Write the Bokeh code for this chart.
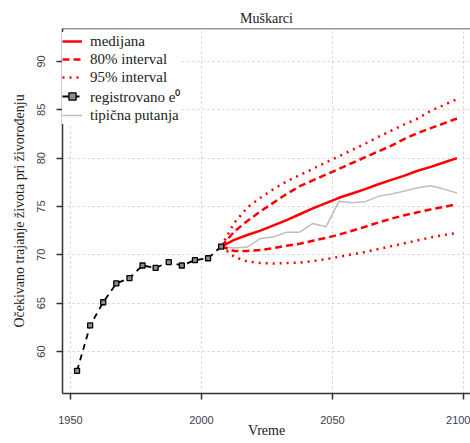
from bokeh.plotting import figure
from bokeh.models import FixedTicker, Span, Legend, LegendItem
from bokeh.embed import file_html
from bokeh.resources import INLINE

# Registered life expectancy at birth (5-year periods)
obs_years = [1952.5, 1957.5, 1962.5, 1967.5, 1972.5, 1977.5, 1982.5,
             1987.5, 1992.5, 1997.5, 2002.5, 2007.5]
obs_e0 = [58.0, 62.7, 65.1, 67.05, 67.6, 68.9, 68.65, 69.25, 68.9, 69.45, 69.65, 70.86]

# Projection periods
proj_years = [2007.5, 2012.5, 2017.5, 2022.5, 2027.5, 2032.5, 2037.5, 2042.5, 2047.5,
              2052.5, 2057.5, 2062.5, 2067.5, 2072.5, 2077.5, 2082.5, 2087.5, 2092.5, 2097.5]
median = [70.86, 71.55, 72.05, 72.5, 73.05, 73.6, 74.2, 74.8, 75.35,
          75.9, 76.35, 76.8, 77.3, 77.75, 78.2, 78.7, 79.1, 79.55, 80.0]
upper80 = [70.86, 72.4, 73.5, 74.5, 75.4, 76.3, 77.1, 77.7, 78.3,
           78.9, 79.5, 80.1, 80.7, 81.3, 82.0, 82.6, 83.1, 83.6, 84.1]
lower80 = [70.86, 70.4, 70.4, 70.5, 70.7, 70.95, 71.15, 71.45, 71.75,
           72.1, 72.5, 72.9, 73.35, 73.75, 74.1, 74.4, 74.7, 74.95, 75.25]
upper95 = [70.86, 73.3, 74.9, 75.9, 76.8, 77.6, 78.25, 78.9, 79.55,
           80.2, 80.85, 81.5, 82.2, 82.85, 83.5, 84.1, 84.9, 85.5, 86.1]
lower95 = [70.86, 69.8, 69.3, 69.15, 69.1, 69.15, 69.2, 69.35, 69.55,
           69.8, 70.05, 70.3, 70.6, 70.9, 71.2, 71.5, 71.8, 72.05, 72.25]
typical = [70.86, 70.7, 70.8, 71.7, 71.85, 72.35, 72.35, 73.25, 72.9,
           75.55, 75.4, 75.5, 76.05, 76.3, 76.6, 76.95, 77.15, 76.8, 76.4]

x_ticks = [1950, 2000, 2050, 2100]
y_ticks = [60, 65, 70, 75, 80, 85, 90]

serif = "Liberation Serif"
sans = "Liberation Sans"
axis_col = "#333333"
red = "#ff0000"

p = figure(width=470, height=443, output_backend="svg", toolbar_location=None,
           x_range=(1946.95, 2102.67), y_range=(55.66, 93.41),
           min_border_left=62, min_border_right=0, min_border_top=28,
           min_border_bottom=50, title="Muškarci")
p.outline_line_color = None
p.background_fill_color = "white"

p.title.align = "center"
p.title.text_font = serif
p.title.text_font_size = "14px"
p.title.text_font_style = "normal"
p.title.text_color = "#222222"
p.title.standoff = 6

p.xaxis.ticker = FixedTicker(ticks=x_ticks)
p.yaxis.ticker = FixedTicker(ticks=y_ticks)
p.yaxis.major_label_orientation = "vertical"
p.xaxis.axis_label = "Vreme"
p.yaxis.axis_label = "Očekivano trajanje života pri živorođenju"
for ax in (p.xaxis, p.yaxis):
    ax.axis_label_text_font = serif
    ax.axis_label_text_font_size = "14px"
    ax.axis_label_text_font_style = "normal"
    ax.axis_label_text_color = "#222222"
    ax.major_label_text_font = sans
    ax.major_label_text_font_size = "11px"
    ax.major_label_text_color = "#3c4050"
    ax.axis_line_color = axis_col
    ax.axis_line_width = 1.5
    ax.major_tick_line_color = axis_col
    ax.major_tick_line_width = 1.5
    ax.major_tick_out = 6
    ax.major_tick_in = 0
    ax.minor_tick_line_color = None
p.xaxis.major_label_standoff = 16
p.xaxis.axis_label_standoff = -4
p.yaxis.major_label_standoff = 11
p.yaxis.axis_label_standoff = 8

for g in (p.xgrid, p.ygrid):
    g.grid_line_color = "#cfcfcf"
    g.grid_line_dash = "2 3"
    g.grid_line_width = 1

# top border of the plotting box
p.add_layout(Span(location=93.41, dimension="width", line_color=axis_col, line_width=1.5))

r_typ = p.line(proj_years, typical, line_color="#bebebe", line_width=1.5)
r_u95 = p.line(proj_years, upper95, line_color=red, line_width=2.5, line_dash="2 5")
r_l95 = p.line(proj_years, lower95, line_color=red, line_width=2.5, line_dash="2 5")
r_u80 = p.line(proj_years, upper80, line_color=red, line_width=2.5, line_dash="7 4")
r_l80 = p.line(proj_years, lower80, line_color=red, line_width=2.5, line_dash="7 4")
r_med = p.line(proj_years, median, line_color=red, line_width=2.5)
r_obs_l = p.line(obs_years, obs_e0, line_color="black", line_width=1.8, line_dash="6 5")
r_obs_p = p.scatter(obs_years, obs_e0, marker="square", size=5, line_color="black",
                    line_width=1.3, fill_color="#8c8c8c")

legend = Legend(items=[
    LegendItem(label="medijana", renderers=[r_med]),
    LegendItem(label="80% interval", renderers=[r_u80]),
    LegendItem(label="95% interval", renderers=[r_u95]),
    LegendItem(label="registrovano e⁰", renderers=[r_obs_l, r_obs_p]),
    LegendItem(label="tipična putanja", renderers=[r_typ]),
], location=(0, 269), margin=0, padding=0, spacing=0,
    glyph_width=20, glyph_height=18, label_height=18, label_standoff=8,
    label_text_font=serif, label_text_font_size="15px", label_text_color="#222222",
    background_fill_color="white", background_fill_alpha=1.0, border_line_color=None)
p.add_layout(legend)

open("out.html", "w").write(file_html(p, INLINE))
